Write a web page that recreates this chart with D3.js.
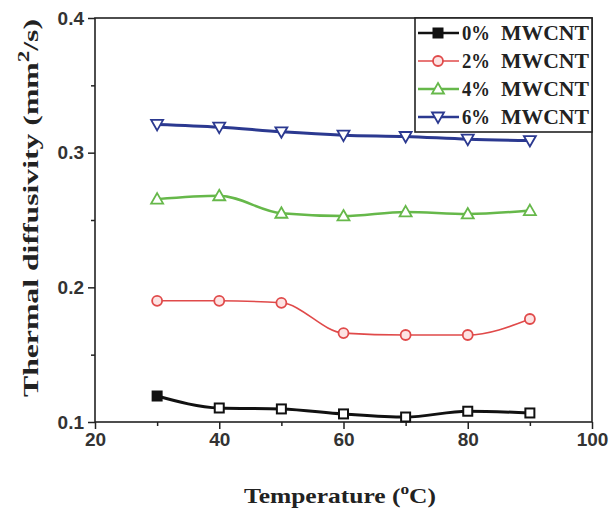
<!DOCTYPE html>
<html><head><meta charset="utf-8">
<script src="https://cdn.jsdelivr.net/npm/d3@7"></script>
<style>body{margin:0;background:#fff}svg{display:block}</style>
</head><body>
<svg id="c" width="611" height="510"></svg>
<script>
const temperatures = [30, 40, 50, 60, 70, 80, 90];
const mwcnt0 = [0.1193, 0.1104, 0.1097, 0.1060, 0.1037, 0.1080, 0.1067];
const mwcnt2 = [0.1900, 0.1900, 0.1885, 0.1660, 0.1646, 0.1646, 0.1765];
const mwcnt4 = [0.2655, 0.2680, 0.2550, 0.2530, 0.2560, 0.2545, 0.2570];
const mwcnt6 = [0.3210, 0.3190, 0.3155, 0.3130, 0.3120, 0.3100, 0.3090];
const seriesNames = ["0% MWCNT", "2% MWCNT", "4% MWCNT", "6% MWCNT"];
const xTicks = [20, 40, 60, 80, 100];
const yTicks = [0.1, 0.2, 0.3, 0.4];

const series = [
  {name: seriesNames[0], values: mwcnt0, color: "#111111", marker: "square", width: 3},
  {name: seriesNames[1], values: mwcnt2, color: "#e04a4a", marker: "circle", width: 1.6},
  {name: seriesNames[2], values: mwcnt4, color: "#66b84a", marker: "up", width: 2.5},
  {name: seriesNames[3], values: mwcnt6, color: "#2b3990", marker: "down", width: 3}
];

const svg = d3.select("#c");
const L = 95, R = 592, T = 18, B = 422;
const x = d3.scaleLinear().domain([20, 100]).range([L, R]);
const y = d3.scaleLinear().domain([0.1, 0.4]).range([B, T]);

// axes
const xAxis = svg.append("g").attr("transform", `translate(0,${B})`)
  .call(d3.axisBottom(x).tickValues(xTicks).tickSize(7).tickPadding(4).tickFormat(d3.format("d")));
const xMinor = svg.append("g").attr("transform", `translate(0,${B})`)
  .call(d3.axisBottom(x).tickValues([30, 50, 70, 90]).tickSize(4).tickFormat(""));
const yAxis = svg.append("g").attr("transform", `translate(${L},0)`)
  .call(d3.axisLeft(y).tickValues(yTicks).tickSize(7).tickPadding(4).tickFormat(d3.format(".1f")));
const yMinor = svg.append("g").attr("transform", `translate(${L},0)`)
  .call(d3.axisLeft(y).tickValues([0.15, 0.25, 0.35]).tickSize(4).tickFormat(""));
[xAxis, xMinor, yAxis, yMinor].forEach(g => {
  g.select(".domain").remove();
  g.selectAll("line").attr("stroke", "#222").attr("stroke-width", 1.5);
  g.selectAll("text").attr("font-family", "Liberation Sans, Arial, sans-serif")
    .attr("font-weight", "bold").attr("font-size", 19).attr("fill", "#333");
});
// frame
svg.append("rect").attr("x", L).attr("y", T).attr("width", R - L).attr("height", B - T)
  .attr("fill", "none").attr("stroke", "#222").attr("stroke-width", 1.6);

// markers
function drawMarker(g, type, cx, cy, color, filled) {
  if (type === "square") {
    g.append("rect").attr("x", cx - 4.5).attr("y", cy - 4.5).attr("width", 9).attr("height", 9)
      .attr("fill", filled ? color : "#fff").attr("stroke", color).attr("stroke-width", 2);
  } else if (type === "circle") {
    g.append("circle").attr("cx", cx).attr("cy", cy).attr("r", 5)
      .attr("fill", "#fde3e3").attr("stroke", color).attr("stroke-width", 1.8);
  } else if (type === "up") {
    g.append("path").attr("d", `M${cx},${cy - 6}L${cx + 6},${cy + 4.5}L${cx - 6},${cy + 4.5}Z`)
      .attr("fill", "#fff").attr("stroke", color).attr("stroke-width", 1.8);
  } else {
    g.append("path").attr("d", `M${cx},${cy + 6}L${cx + 6},${cy - 4.5}L${cx - 6},${cy - 4.5}Z`)
      .attr("fill", "#fff").attr("stroke", color).attr("stroke-width", 1.8);
  }
}

const line = d3.line().x((d, i) => x(temperatures[i])).y(d => y(d)).curve(d3.curveMonotoneX);
series.forEach(s => {
  svg.append("path").attr("d", line(s.values)).attr("fill", "none")
    .attr("stroke", s.color).attr("stroke-width", s.width);
  const g = svg.append("g");
  s.values.forEach((v, i) => drawMarker(g, s.marker, x(temperatures[i]), y(v), s.color, s.marker === "square" && i === 0));
});

// legend
const lg = svg.append("g");
lg.append("rect").attr("x", 415).attr("y", T).attr("width", R - 415).attr("height", 114)
  .attr("fill", "#fff").attr("stroke", "#222").attr("stroke-width", 1.6);
series.forEach((s, i) => {
  const ly = 33 + i * 28;
  lg.append("line").attr("x1", 418).attr("x2", 459).attr("y1", ly).attr("y2", ly)
    .attr("stroke", s.color).attr("stroke-width", Math.min(s.width, 2.5));
  drawMarker(lg, s.marker, 438, ly, s.color, s.marker === "square");
  const parts = s.name.split(" ");
  lg.append("text").attr("x", 462).attr("y", ly + 7).text(parts[0])
    .attr("textLength", 28).attr("lengthAdjust", "spacingAndGlyphs")
    .attr("font-family", "Liberation Serif, Times New Roman, serif").attr("font-weight", "bold")
    .attr("font-size", 20).attr("fill", "#222");
  lg.append("text").attr("x", 501).attr("y", ly + 7).text(parts[1])
    .attr("textLength", 88).attr("lengthAdjust", "spacingAndGlyphs")
    .attr("font-family", "Liberation Serif, Times New Roman, serif").attr("font-weight", "bold")
    .attr("font-size", 20).attr("fill", "#222");
});

// axis titles
const yt = svg.append("text").attr("transform", "translate(38,208) rotate(-90)")
  .attr("text-anchor", "middle").attr("font-family", "Liberation Serif, Times New Roman, serif")
  .attr("font-weight", "bold").attr("font-size", 22).attr("fill", "#222")
  .attr("textLength", 378).attr("lengthAdjust", "spacingAndGlyphs");
yt.append("tspan").text("Thermal diffusivity (mm");
yt.append("tspan").text("2").attr("dy", -9).attr("font-size", 16);
yt.append("tspan").text("/s)").attr("dy", 9);

const xt = svg.append("text").attr("x", 340).attr("y", 503)
  .attr("text-anchor", "middle").attr("font-family", "Liberation Serif, Times New Roman, serif")
  .attr("font-weight", "bold").attr("font-size", 22).attr("fill", "#222")
  .attr("textLength", 192).attr("lengthAdjust", "spacingAndGlyphs");
xt.append("tspan").text("Temperature (");
xt.append("tspan").text("o").attr("dy", -9).attr("font-size", 15);
xt.append("tspan").text("C)").attr("dy", 9);
</script>
</body></html>
